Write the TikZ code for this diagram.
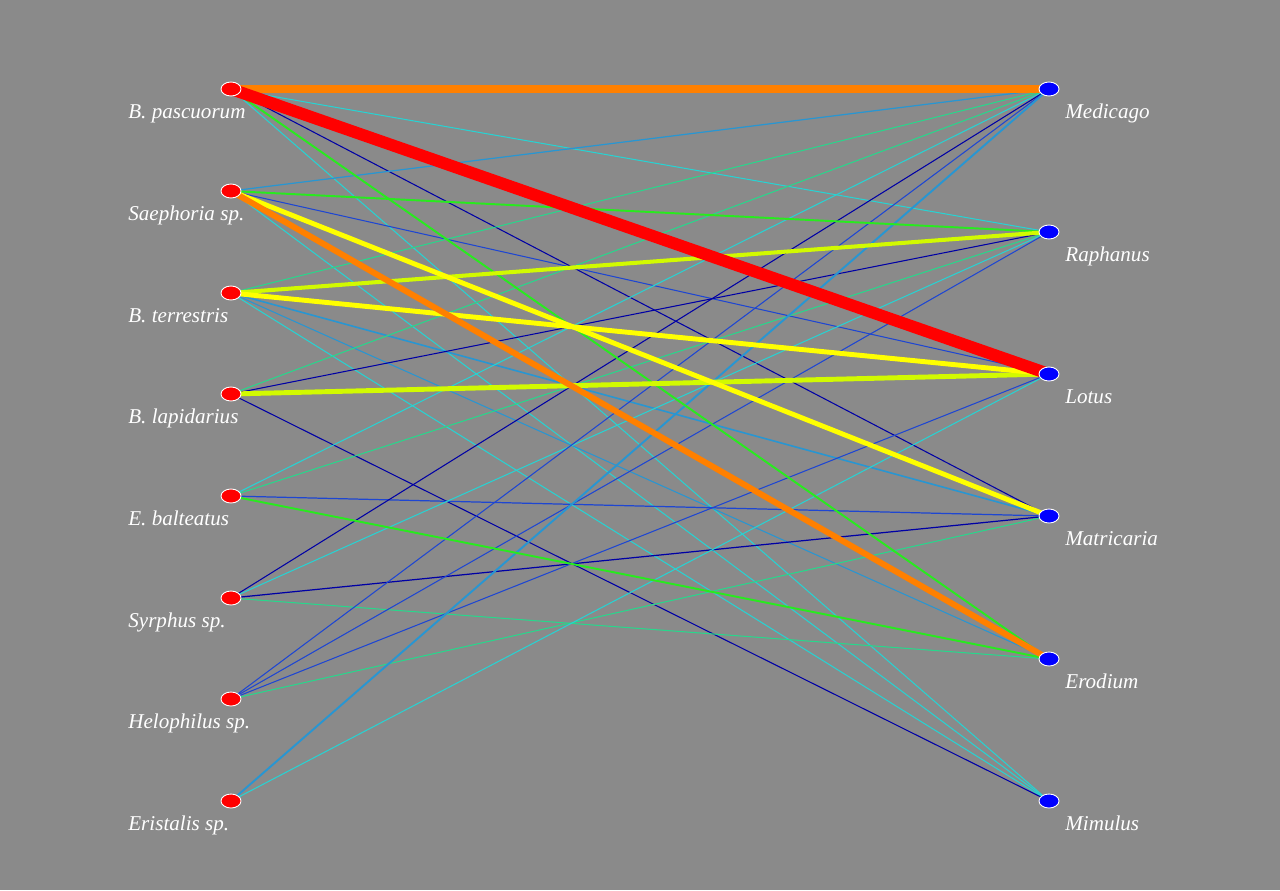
\documentclass[tikz,border=0pt]{standalone}
\usepackage{fontspec}
\setmainfont{Liberation Serif}
\usetikzlibrary{backgrounds}
\usetikzlibrary{shapes}
\definecolor{bggray}{RGB}{138,138,138}
\definecolor{wdark}{RGB}{0,0,165}
\definecolor{wblue}{RGB}{30,70,210}
\definecolor{wsteel}{RGB}{40,150,210}
\definecolor{wcyan}{RGB}{40,210,210}
\definecolor{wteal}{RGB}{40,215,140}
\definecolor{wgreen}{RGB}{40,235,30}
\definecolor{wlime}{RGB}{210,250,0}
\definecolor{wyellow}{RGB}{255,255,0}
\definecolor{worange}{RGB}{255,128,0}
\definecolor{wred}{RGB}{255,0,0}
\tikzset{x=0.02cm, y=-0.02cm,
 insect/.style={ellipse, draw=white, line width=0.5pt, fill=red, minimum width=0.4cm, minimum height=0.28cm, inner sep=0pt},
 plant/.style={insect, fill=blue},
 lab/.style={anchor=base west, text=white, font=\itshape\fontsize{12}{14}\selectfont, inner sep=0pt},
 }

\begin{document}
\begin{tikzpicture}
        % insects on the left
        \foreach \n/\y/\t in {l1/89/B. pascuorum, l2/191/Saephoria sp., l3/293/B. terrestris, l4/394/B. lapidarius, l5/496/E. balteatus, l6/598/Syrphus sp., l7/699/Helophilus sp., l8/801/Eristalis sp.} {
            \node[insect] (\n) at (231,\y) {};
            \node[lab] (\n t) at (128,\y+29) {\t};
        }
        % plants on the right
        \foreach \n/\y/\t in {r1/89/Medicago, r2/232/Raphanus, r3/374/Lotus, r4/516/Matricaria, r5/659/Erodium, r6/801/Mimulus} {
            \node[plant] (\n) at (1049,\y) {};
            \node[lab] (\n t) at (1065,\y+29) {\t};
        }
        \begin{pgfonlayer}{background}
        \fill[bggray] (0,0) rectangle (1280,890);
        \foreach \a/\b/\c/\w in {
            l1/r2/wcyan/0.6, l1/r4/wdark/0.6, l1/r6/wcyan/0.6,
            l2/r1/wsteel/0.7, l2/r3/wblue/0.6, l2/r6/wcyan/0.6,
            l3/r1/wteal/0.6, l3/r4/wsteel/0.9, l3/r5/wsteel/0.6, l3/r6/wcyan/0.6,
            l4/r1/wteal/0.6, l4/r2/wdark/0.6, l4/r6/wdark/0.6,
            l5/r1/wcyan/0.6, l5/r2/wteal/0.6, l5/r4/wblue/0.7,
            l6/r1/wdark/0.6, l6/r2/wcyan/0.6, l6/r4/wdark/0.7, l6/r5/wteal/0.6,
            l7/r1/wblue/0.6, l7/r2/wblue/0.6, l7/r3/wblue/0.6, l7/r4/wteal/0.6,
            l8/r1/wsteel/1.1, l8/r3/wcyan/0.6,
            l1/r5/wgreen/1.1, l2/r2/wgreen/1.1, l5/r5/wgreen/1.1,
            l3/r2/wlime/2.3, l4/r3/wlime/2.8,
            l3/r3/wyellow/2.8, l2/r4/wyellow/2.8,
            l2/r5/worange/3.4, l1/r1/worange/4, l1/r3/wred/6.8} {
            \draw[\c, line width=\w pt] (\a.center) -- (\b.center);
        }
        \end{pgfonlayer}
    \end{tikzpicture}
\end{document}
